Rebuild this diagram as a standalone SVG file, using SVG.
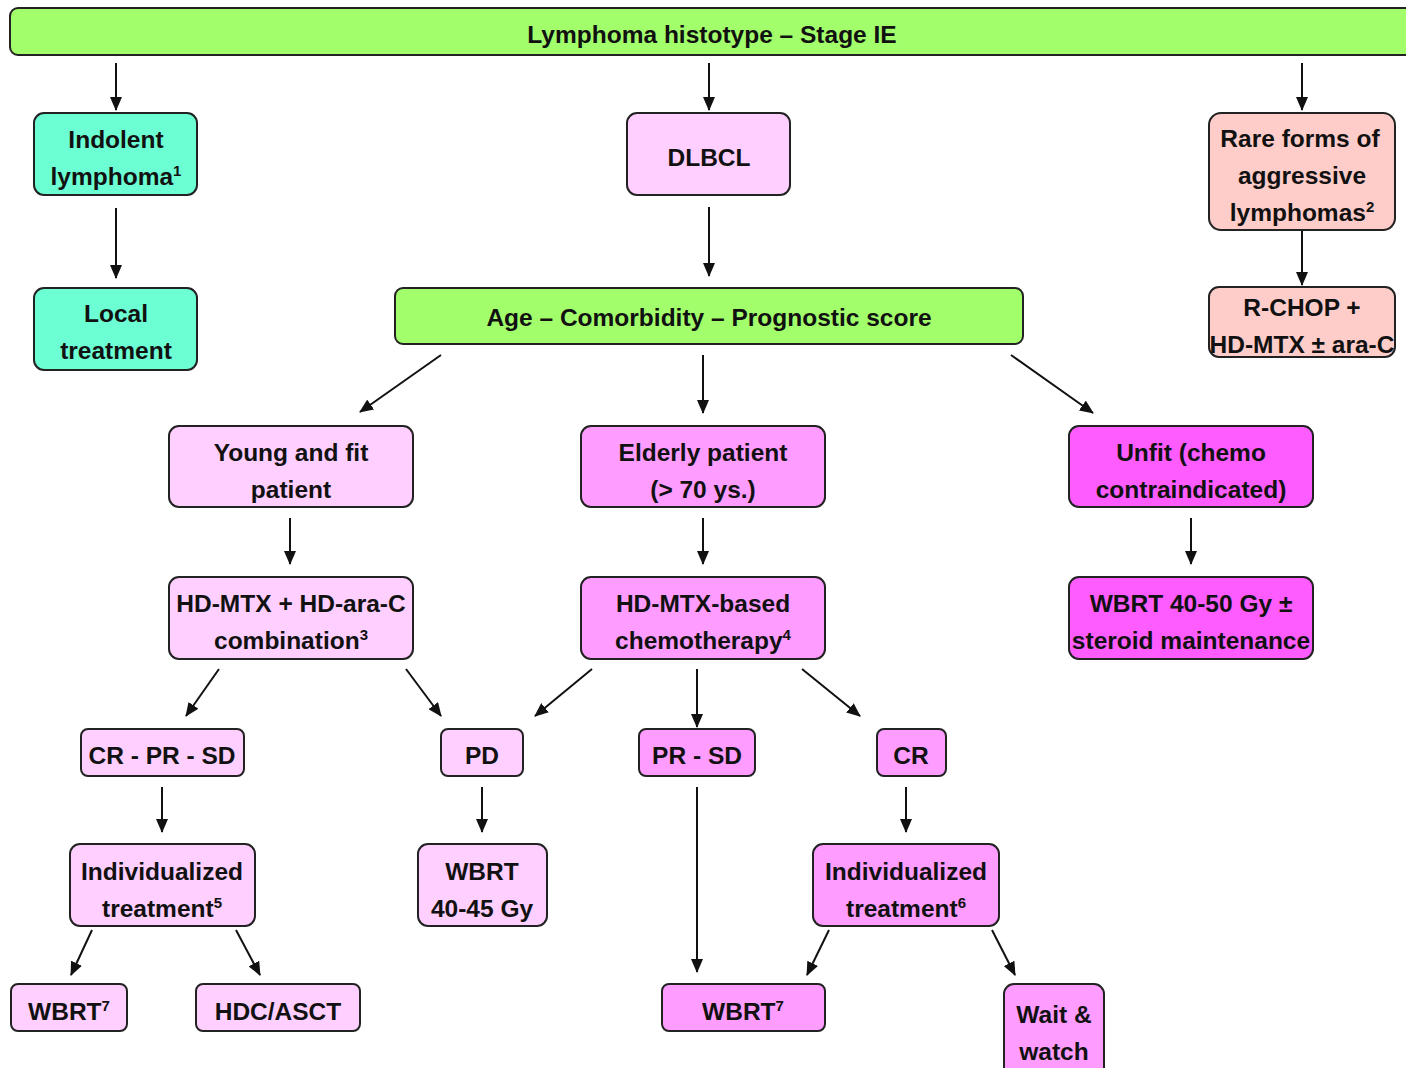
<svg xmlns="http://www.w3.org/2000/svg" width="1406" height="1068" viewBox="0 0 1406 1068">
<defs>
<marker id="ah" markerUnits="userSpaceOnUse" markerWidth="14" markerHeight="12" refX="13" refY="6" orient="auto">
<path d="M0,0 L14,6 L0,12 Z" fill="#111"/>
</marker>
<style>
.b{stroke:#222;stroke-width:2}
.g{fill:#a2ff6b}.t{fill:#6bffd3}.s{fill:#ffcdc9}.lp{fill:#ffcfff}.mp{fill:#ff9cff}.m{fill:#ff5cff}
text{font-family:"Liberation Sans",Arial,sans-serif;font-weight:bold;font-size:24.5px;fill:#111;text-anchor:middle}
.sup{font-size:15px}
#conn line{stroke:#111;stroke-width:2;marker-end:url(#ah)}
</style>
</defs>
<rect width="1406" height="1068" fill="#fff"/>
<g id="conn">
<line x1="116" y1="63" x2="116" y2="110"/>
<line x1="709" y1="63" x2="709" y2="110"/>
<line x1="1302" y1="63" x2="1302" y2="110"/>
<line x1="116" y1="208" x2="116" y2="278"/>
<line x1="709" y1="207" x2="709" y2="276"/>
<line x1="1302" y1="231" x2="1302" y2="285"/>
<line x1="441" y1="355" x2="360" y2="412"/>
<line x1="703" y1="355" x2="703" y2="413"/>
<line x1="1011" y1="355" x2="1093" y2="413"/>
<line x1="290" y1="518" x2="290" y2="564"/>
<line x1="703" y1="518" x2="703" y2="564"/>
<line x1="1191" y1="518" x2="1191" y2="564"/>
<line x1="219" y1="669" x2="186" y2="716"/>
<line x1="406" y1="669" x2="441" y2="716"/>
<line x1="592" y1="669" x2="535" y2="716"/>
<line x1="697" y1="669" x2="697" y2="727"/>
<line x1="802" y1="669" x2="860" y2="716"/>
<line x1="162" y1="787" x2="162" y2="832"/>
<line x1="482" y1="787" x2="482" y2="832"/>
<line x1="906" y1="787" x2="906" y2="832"/>
<line x1="92" y1="930" x2="71" y2="975"/>
<line x1="236" y1="930" x2="260" y2="975"/>
<line x1="697" y1="787" x2="697" y2="972"/>
<line x1="829" y1="930" x2="807" y2="975"/>
<line x1="992" y1="930" x2="1015" y2="975"/>
</g>
<g id="n-top"><rect class="b g" x="10" y="8" width="1410" height="47" rx="8"/><text x="712" y="43">Lymphoma histotype – Stage IE</text></g>
<g id="n-indolent"><rect class="b t" x="34" y="113" width="163" height="82" rx="10"/><text x="116" y="148">Indolent</text><text x="116" y="185">lymphoma<tspan class="sup" dy="-9">1</tspan></text></g>
<g id="n-local"><rect class="b t" x="34" y="288" width="163" height="82" rx="10"/><text x="116" y="322">Local</text><text x="116" y="359">treatment</text></g>
<g id="n-dlbcl"><rect class="b lp" x="627" y="113" width="163" height="82" rx="10"/><text x="709" y="166">DLBCL</text></g>
<g id="n-rare"><rect class="b s" x="1209" y="113" width="186" height="117" rx="12"/><text x="1300" y="147">Rare forms of</text><text x="1302" y="184">aggressive</text><text x="1302" y="221">lymphomas<tspan class="sup" dy="-9">2</tspan></text></g>
<g id="n-rchop"><rect class="b s" x="1209" y="287" width="186" height="70" rx="10"/><text x="1302" y="316">R-CHOP +</text><text x="1302" y="353">HD-MTX ± ara-C</text></g>
<g id="n-age"><rect class="b g" x="395" y="288" width="628" height="56" rx="8"/><text x="709" y="326">Age – Comorbidity – Prognostic score</text></g>
<g id="n-young"><rect class="b lp" x="169" y="426" width="244" height="81" rx="10"/><text x="291" y="461">Young and fit</text><text x="291" y="498">patient</text></g>
<g id="n-elderly"><rect class="b mp" x="581" y="426" width="244" height="81" rx="10"/><text x="703" y="461">Elderly patient</text><text x="703" y="498">(&gt; 70 ys.)</text></g>
<g id="n-unfit"><rect class="b m" x="1069" y="426" width="244" height="81" rx="10"/><text x="1191" y="461">Unfit (chemo</text><text x="1191" y="498">contraindicated)</text></g>
<g id="n-hdmtx-arac"><rect class="b lp" x="169" y="577" width="244" height="82" rx="10"/><text x="291" y="612">HD-MTX + HD-ara-C</text><text x="291" y="649">combination<tspan class="sup" dy="-9">3</tspan></text></g>
<g id="n-hdmtx-based"><rect class="b mp" x="581" y="577" width="244" height="82" rx="10"/><text x="703" y="612">HD-MTX-based</text><text x="703" y="649">chemotherapy<tspan class="sup" dy="-9">4</tspan></text></g>
<g id="n-wbrt4050"><rect class="b m" x="1069" y="577" width="244" height="82" rx="10"/><text x="1191" y="612">WBRT 40-50 Gy ±</text><text x="1191" y="649">steroid maintenance</text></g>
<g id="n-crprsd"><rect class="b lp" x="81" y="729" width="163" height="47" rx="7"/><text x="162" y="764">CR - PR - SD</text></g>
<g id="n-pd"><rect class="b lp" x="441" y="729" width="82" height="47" rx="7"/><text x="482" y="764">PD</text></g>
<g id="n-prsd"><rect class="b mp" x="639" y="729" width="116" height="47" rx="7"/><text x="697" y="764">PR - SD</text></g>
<g id="n-cr"><rect class="b mp" x="877" y="729" width="69" height="47" rx="7"/><text x="911" y="764">CR</text></g>
<g id="n-indiv5"><rect class="b lp" x="70" y="844" width="185" height="82" rx="10"/><text x="162" y="880">Individualized</text><text x="162" y="917">treatment<tspan class="sup" dy="-9">5</tspan></text></g>
<g id="n-wbrt4045"><rect class="b lp" x="418" y="844" width="129" height="82" rx="10"/><text x="482" y="880">WBRT</text><text x="482" y="917">40-45 Gy</text></g>
<g id="n-indiv6"><rect class="b mp" x="813" y="844" width="186" height="82" rx="10"/><text x="906" y="880">Individualized</text><text x="906" y="917">treatment<tspan class="sup" dy="-9">6</tspan></text></g>
<g id="n-wbrt7a"><rect class="b lp" x="11" y="984" width="116" height="47" rx="7"/><text x="69" y="1020">WBRT<tspan class="sup" dy="-9">7</tspan></text></g>
<g id="n-hdc"><rect class="b lp" x="196" y="984" width="164" height="47" rx="7"/><text x="278" y="1020">HDC/ASCT</text></g>
<g id="n-wbrt7b"><rect class="b mp" x="662" y="984" width="163" height="47" rx="7"/><text x="743" y="1020">WBRT<tspan class="sup" dy="-9">7</tspan></text></g>
<g id="n-wait"><rect class="b mp" x="1004" y="984" width="100" height="100" rx="10"/><text x="1054" y="1023">Wait &amp;</text><text x="1054" y="1060">watch</text></g>
</svg>
